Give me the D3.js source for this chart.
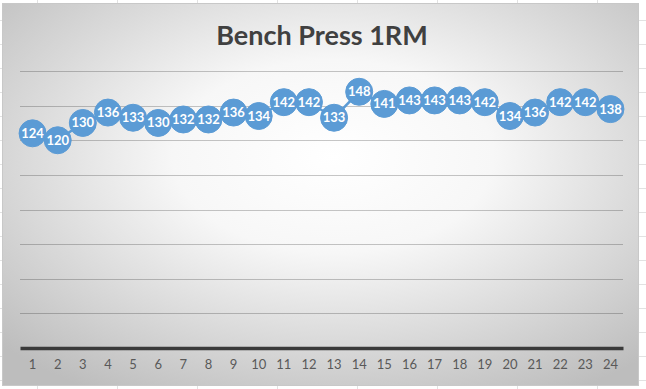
<!DOCTYPE html>
<html lang="en">
<head>
    <meta charset="UTF-8">
    <title>Bench Press 1RM</title>
    <script src="https://d3js.org/d3.v7.min.js"></script>
    <style>
        body { margin: 0; background: #fff; }
        svg { display: block; }
    </style>
</head>
<body>
    <div id="chart"></div>
    <script>
        // data
        var sessions = ["1","2","3","4","5","6","7","8","9","10","11","12",
                        "13","14","15","16","17","18","19","20","21","22","23","24"];
        var oneRM = [124,120,130,136,133,130,132,132,136,134,142,142,
                     133,148,141,143,143,143,142,134,136,142,142,138];
        var yTicks = [0,20,40,60,80,100,120,140,160];

        var W = 646, H = 389;
        var margin = { top: 71, right: 23, bottom: 41, left: 20 },
            width = W - margin.left - margin.right,
            height = H - margin.top - margin.bottom;

        var root = d3.select("#chart").append("svg")
            .attr("width", W)
            .attr("height", H);

        // spreadsheet cells behind the chart object
        var cells = root.append("g").attr("stroke", "#e2e2e2").attr("stroke-width", 1);
        [37, 117, 197, 277, 357, 437, 517, 597].forEach(function (x) {
            cells.append("line").attr("x1", x + 0.5).attr("x2", x + 0.5).attr("y1", 0).attr("y2", H);
        });
        for (var gy = 20; gy < H; gy += 24) {
            cells.append("line").attr("x1", 0).attr("x2", W).attr("y1", gy + 0.5).attr("y2", gy + 0.5);
        }

        var defs = root.append("defs");
        var grad = defs.append("radialGradient")
            .attr("id", "bg")
            .attr("cx", "52%").attr("cy", "40%").attr("r", "72%");
        grad.append("stop").attr("offset", "0%").attr("stop-color", "#ffffff");
        grad.append("stop").attr("offset", "35%").attr("stop-color", "#f7f7f7");
        grad.append("stop").attr("offset", "100%").attr("stop-color", "#bdbdbd");

        root.append("rect")
            .attr("x", 2.5).attr("y", 3.5)
            .attr("width", 636).attr("height", 382)
            .attr("fill", "url(#bg)")
            .attr("stroke", "#c8c8c8");

        root.append("text")
            .attr("x", 322)
            .attr("y", 45)
            .attr("text-anchor", "middle")
            .attr("font-family", "Lato, 'Open Sans', sans-serif")
            .attr("font-weight", "bold")
            .attr("font-size", "27px")
            .attr("fill", "#404040")
            .text("Bench Press 1RM");

        var svg = root.append("g")
            .attr("transform", "translate(" + margin.left + "," + margin.top + ")");

        var x = d3.scaleBand()
            .domain(sessions)
            .range([0, width]);

        var y = d3.scaleLinear()
            .domain([0, 160])
            .range([height, 0]);

        // gridlines
        svg.append("g")
            .selectAll("line")
            .data(yTicks.slice(1))
            .enter().append("line")
            .attr("x1", 0).attr("x2", width)
            .attr("y1", function (d) { return Math.round(y(d)) + 0.5; })
            .attr("y2", function (d) { return Math.round(y(d)) + 0.5; })
            .attr("stroke", "#000")
            .attr("stroke-opacity", 0.22)
            .attr("stroke-width", 1);

        // x axis
        var xAxis = svg.append("g")
            .attr("transform", "translate(0," + height + ")")
            .call(d3.axisBottom(x).tickSize(0).tickPadding(12));
        xAxis.select(".domain")
            .attr("stroke", "#3a3a3a")
            .attr("stroke-width", 3.5);
        xAxis.selectAll("text")
            .attr("font-family", "Lato, 'Open Sans', sans-serif")
            .attr("font-size", "13px")
            .attr("fill", "#595959");

        var cx = function (d, i) { return x(sessions[i]) + x.bandwidth() / 2; };

        var line = d3.line()
            .x(function (d, i) { return cx(d, i); })
            .y(function (d) { return y(d); });

        svg.append("path")
            .datum(oneRM)
            .attr("d", line)
            .attr("fill", "none")
            .attr("stroke", "#5b9bd5")
            .attr("stroke-width", 2.5);

        svg.append("g")
            .selectAll("circle")
            .data(oneRM)
            .enter().append("circle")
            .attr("cx", cx)
            .attr("cy", function (d) { return y(d); })
            .attr("r", 13.5)
            .attr("fill", "#5b9bd5")
            .attr("stroke", "#5b9bd5");

        svg.append("g")
            .selectAll("text")
            .data(oneRM)
            .enter().append("text")
            .attr("x", cx)
            .attr("y", function (d) { return y(d) + 4.5; })
            .attr("text-anchor", "middle")
            .attr("font-family", "Lato, 'Open Sans', sans-serif")
            .attr("font-weight", "bold")
            .attr("font-size", "13px")
            .attr("fill", "#ffffff")
            .text(function (d) { return d; });
    </script>
</body>
</html>
